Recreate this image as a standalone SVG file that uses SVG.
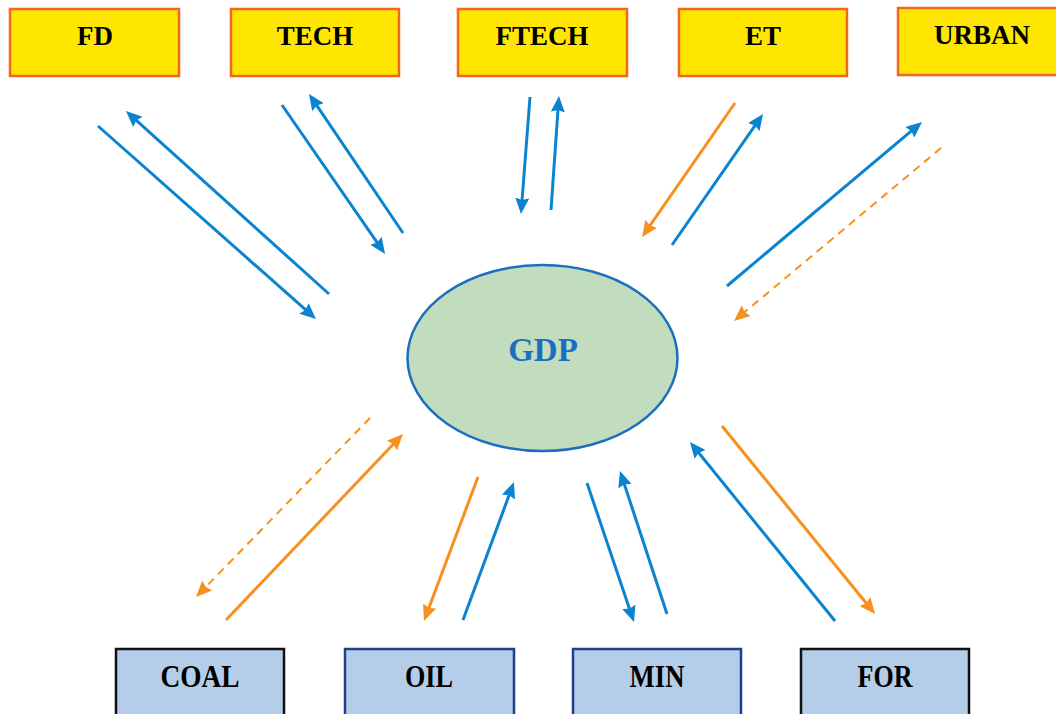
<svg xmlns="http://www.w3.org/2000/svg" width="1056" height="714" viewBox="0 0 1056 714">
<style>
.top rect{fill:#FFE600;stroke:#F26522;stroke-width:2.5}
.bot rect{fill:#B4CDE8;stroke-width:2.5}
.lbl{font-family:"Liberation Serif","Times New Roman",serif;font-weight:bold;font-size:27px;fill:#000;text-anchor:middle}
.blbl{font-family:"Liberation Serif","Times New Roman",serif;font-weight:bold;font-size:32px;fill:#000;text-anchor:middle}
.b{stroke:#0A84D0;stroke-width:3;fill:none}
.o{stroke:#F7901E;stroke-width:3;fill:none}
.od{stroke:#F7901E;stroke-width:2;fill:none;stroke-dasharray:8 6}
</style>
<defs>
<marker id="ab" viewBox="0 0 16 14" refX="8" refY="7" markerWidth="16" markerHeight="14" markerUnits="userSpaceOnUse" orient="auto"><path d="M0,0 L16,7 L0,14 L2,7 z" fill="#0A84D0"/></marker>
<marker id="ao" viewBox="0 0 16 14" refX="8" refY="7" markerWidth="16" markerHeight="14" markerUnits="userSpaceOnUse" orient="auto"><path d="M0,0 L16,7 L0,14 L2,7 z" fill="#F7901E"/></marker>
</defs>
<rect width="1056" height="714" fill="#fff"/>
<g id="connectors">
<line class="b" x1="98" y1="126" x2="310" y2="313.7" marker-end="url(#ab)"/>
<line class="b" x1="329" y1="294" x2="131.9" y2="116.4" marker-end="url(#ab)"/>
<line class="b" x1="282" y1="105" x2="380.5" y2="247.4" marker-end="url(#ab)"/>
<line class="b" x1="403" y1="233" x2="313.5" y2="100.6" marker-end="url(#ab)"/>
<line class="b" x1="530" y1="97" x2="521.6" y2="206" marker-end="url(#ab)"/>
<line class="b" x1="551" y1="210" x2="558.4" y2="104" marker-end="url(#ab)"/>
<line class="o" x1="735" y1="103" x2="646.6" y2="230.4" marker-end="url(#ao)"/>
<line class="b" x1="672" y1="245" x2="758.4" y2="120.6" marker-end="url(#ab)"/>
<line class="b" x1="727" y1="286" x2="915.9" y2="127.1" marker-end="url(#ab)"/>
<line class="od" x1="941" y1="148" x2="740.1" y2="315.9" marker-end="url(#ao)"/>
<line class="od" x1="370" y1="418" x2="201.6" y2="591.3" marker-end="url(#ao)"/>
<line class="o" x1="226" y1="620" x2="397.5" y2="439.8" marker-end="url(#ao)"/>
<line class="o" x1="478" y1="477" x2="426.8" y2="613.5" marker-end="url(#ao)"/>
<line class="b" x1="463" y1="620" x2="511.2" y2="489.5" marker-end="url(#ab)"/>
<line class="b" x1="587" y1="483" x2="631.4" y2="614.4" marker-end="url(#ab)"/>
<line class="b" x1="667" y1="614" x2="622.5" y2="478.6" marker-end="url(#ab)"/>
<line class="b" x1="835" y1="621" x2="695" y2="448.2" marker-end="url(#ab)"/>
<line class="o" x1="722" y1="426" x2="870" y2="607.8" marker-end="url(#ao)"/>
</g>
<g id="FD" class="top"><rect x="10" y="9" width="169" height="67"/><text class="lbl" x="95" y="45">FD</text></g>
<g id="TECH" class="top"><rect x="231" y="9" width="168" height="67"/><text class="lbl" x="315" y="45">TECH</text></g>
<g id="FTECH" class="top"><rect x="458" y="9" width="169" height="67"/><text class="lbl" x="542" y="45">FTECH</text></g>
<g id="ET" class="top"><rect x="679" y="9" width="168" height="67"/><text class="lbl" x="763" y="45">ET</text></g>
<g id="URBAN" class="top"><rect x="898" y="8" width="168" height="67"/><text class="lbl" x="982" y="44">URBAN</text></g>
<g id="GDP"><ellipse cx="542.5" cy="358" rx="135" ry="93" fill="#C2DCBE" stroke="#1A6FBF" stroke-width="2.5"/><text x="543" y="361" style="font-family:'Liberation Serif','Times New Roman',serif;font-weight:bold;font-size:33px;fill:#1A6FBF;text-anchor:middle">GDP</text></g>
<g id="COAL" class="bot"><rect x="116" y="649" width="168" height="70" stroke="#111"/><text class="blbl" x="200" y="687" textLength="79" lengthAdjust="spacingAndGlyphs">COAL</text></g>
<g id="OIL" class="bot"><rect x="345" y="649" width="169" height="70" stroke="#1F3F8F"/><text class="blbl" x="429" y="687" textLength="48" lengthAdjust="spacingAndGlyphs">OIL</text></g>
<g id="MIN" class="bot"><rect x="573" y="649" width="168" height="70" stroke="#1F3F8F"/><text class="blbl" x="657" y="687" textLength="55" lengthAdjust="spacingAndGlyphs">MIN</text></g>
<g id="FOR" class="bot"><rect x="801" y="649" width="168" height="70" stroke="#111"/><text class="blbl" x="885" y="687" textLength="55" lengthAdjust="spacingAndGlyphs">FOR</text></g>
</svg>
